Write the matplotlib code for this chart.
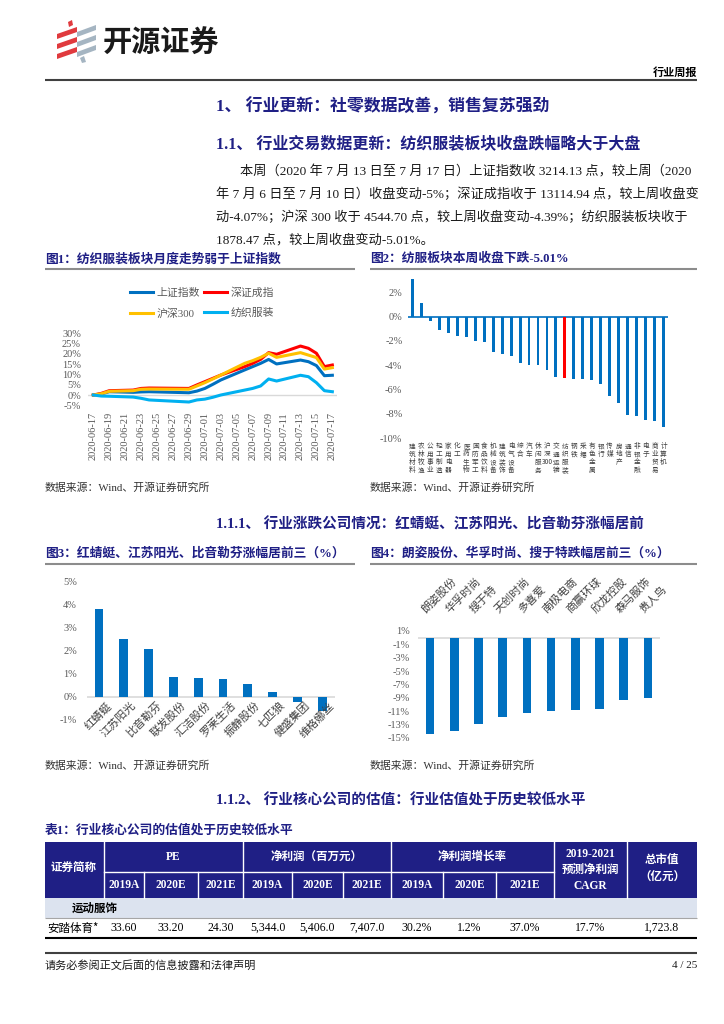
import matplotlib
matplotlib.use("Agg")
import matplotlib.pyplot as plt
from matplotlib.patches import Rectangle, Polygon
from matplotlib.font_manager import FontProperties
import pandas as pd
import numpy as np

CJK = "Noto Sans CJK SC"
SERIF = ["Liberation Serif", "Noto Sans CJK SC"]
NAVY = "#1F1F85"
BLUE = "#0070C0"
GREY = "#595959"
plt.rcParams["font.family"] = SERIF

# ---- chart 1: cumulative change since 2020-06-17 (%)
dates = ["2020-06-17", "2020-06-18", "2020-06-19", "2020-06-22", "2020-06-23", "2020-06-24",
         "2020-06-29", "2020-06-30", "2020-07-01", "2020-07-02", "2020-07-03", "2020-07-06",
         "2020-07-07", "2020-07-08", "2020-07-09", "2020-07-10", "2020-07-13", "2020-07-14",
         "2020-07-15", "2020-07-16", "2020-07-17"]
sh_index = [0, 0.5, 1.6, 1.3, 1.5, 1.6, 1.1, 1.9, 3.2, 5.2, 7.3, 12.2, 13.8, 15.4, 17.3,
            15.1, 17.0, 16.2, 14.3, 9.4, 9.6]
sz_index = [0, 0.8, 2.1, 2.4, 3.2, 3.4, 3.2, 4.9, 6.5, 8.1, 9.7, 13.8, 15.4, 17.3, 20.6,
            19.8, 23.8, 22.7, 20.3, 13.8, 14.6]
hs300 = [0, 0.6, 1.8, 2.1, 2.8, 2.9, 2.8, 4.4, 6.0, 7.8, 9.7, 15.4, 16.7, 18.3, 20.3,
         18.3, 20.6, 19.4, 18.2, 12.6, 13.3]
textile = [0, -0.5, -0.6, -1.0, -1.6, -2.4, -3.4, -2.4, -2.0, -1.1, 0, 2.4, 3.2, 4.4, 7.8,
           6.8, 9.6, 8.9, 6.0, 2.1, 1.6]

# ---- chart 2: weekly change by industry (%)
industries = ["建筑材料", "农林牧渔", "公用事业", "轻工制造", "家用电器", "化工", "医药生物",
              "国防军工", "食品饮料", "机械设备", "建筑装饰", "电气设备", "综合", "汽车",
              "休闲服务", "沪深300", "交通运输", "纺织服装", "钢铁", "采掘", "有色金属",
              "银行", "传媒", "房地产", "通信", "非银金融", "电子", "商业贸易", "计算机"]
ind_change = [3.1, 1.1, -0.4, -1.1, -1.35, -1.6, -1.7, -2.0, -2.1, -2.9, -3.05, -3.2,
              -3.8, -3.95, -4.0, -4.39, -4.95, -5.01, -5.1, -5.15, -5.25, -5.5, -6.5,
              -7.1, -8.1, -8.15, -8.5, -8.55, -9.1]

# ---- chart 3 / 4: top gainers and losers (%)
gainers = ["红蜻蜓", "江苏阳光", "比音勒芬", "联发股份", "汇洁股份", "罗莱生活", "振静股份",
           "七匹狼", "健盛集团", "维格娜丝"]
gain_pct = [3.82, 2.50, 2.08, 0.85, 0.80, 0.76, 0.57, 0.19, -0.24, -0.62]
losers = ["朗姿股份", "华孚时尚", "搜于特", "天创时尚", "多喜爱", "南极电商", "商赢环球",
          "欣龙控股", "森马服饰", "贵人鸟"]
loss_pct = [-14.4, -14.0, -12.9, -11.9, -11.3, -11.0, -10.9, -10.7, -9.4, -9.0]

# ---- table
years = ["2019A", "2020E", "2021E"]
pe = [33.60, 33.20, 24.30]
profit = [5344.0, 5406.0, 7407.0]
growth = [30.2, 1.2, 37.0]
cagr = 17.7
mcap = 1723.8

W, H = 724, 1024
fig = plt.figure(figsize=(7.24, 10.24), dpi=100)
page = fig.add_axes([0, 0, 1, 1])
page.set_xlim(0, W)
page.set_ylim(H, 0)
page.axis("off")


def ax_at(x0, y0, x1, y1):
    return fig.add_axes([x0 / W, 1 - y1 / H, (x1 - x0) / W, (y1 - y0) / H], facecolor="none")


def txt(x, y, s, size=9, color="black", weight="normal", ha="left", family=SERIF, **kw):
    page.text(x, y, s, fontsize=size, color=color, weight=weight, ha=ha, va="center",
              family=family, **kw)


def hline(y, x0, x1, color="#404040", lw=1.2):
    page.plot([x0, x1], [y, y], color=color, lw=lw, solid_capstyle="butt")


# ---- page header
for k in range(3):
    page.add_patch(Polygon([(57, 34 + 10 * k), (77, 27 + 10 * k), (77, 32 + 10 * k), (57, 39 + 10 * k)],
                           color="#E03A3E", lw=0))
    page.add_patch(Polygon([(77, 32 + 10 * k), (96, 25 + 10 * k), (96, 30 + 10 * k), (77, 37 + 10 * k)],
                           color="#A5B5C2", lw=0))
page.add_patch(Polygon([(68, 22), (72, 20), (73, 25), (69, 27)], color="#E03A3E", lw=0))
page.add_patch(Polygon([(80, 58), (84, 56), (86, 62), (82, 63)], color="#A5B5C2", lw=0))
txt(103, 43, "开源证券", size=21, weight="bold", family=CJK, color="#1A1A1A")
txt(697, 72, "行业周报", size=8, weight="bold", ha="right", family=CJK)
hline(80, 45, 697, lw=1.5)

# ---- headings and paragraph
txt(216, 107, "1、 行业更新：社零数据改善，销售复苏强劲", size=12.2, color=NAVY, weight="bold")
txt(216, 145, "1.1、 行业交易数据更新：纺织服装板块收盘跌幅略大于大盘", size=11.5, color=NAVY, weight="bold")
para = ["本周（2020 年 7 月 13 日至 7 月 17 日）上证指数收 3214.13 点，较上周（2020",
        "年 7 月 6 日至 7 月 10 日）收盘变动-5%；深证成指收于 13114.94 点，较上周收盘变",
        "动-4.07%；沪深 300 收于 4544.70 点，较上周收盘变动-4.39%；纺织服装板块收于",
        "1878.47 点，较上周收盘变动-5.01%。"]
for k, line in enumerate(para):
    txt(240 if k == 0 else 216, 172 + 22.7 * k, line, size=9.5, color="#1A1A1A")

txt(45, 259, "图1：纺织服装板块月度走势弱于上证指数", size=9.2, color=NAVY, weight="bold")
txt(370, 259, "图2：纺服板块本周收盘下跌-5.01%", size=9.2, color=NAVY, weight="bold")
hline(269, 45, 355, color="#8C8C8C", lw=1.5)
hline(269, 370, 697, color="#8C8C8C", lw=1.5)
txt(45, 488, "数据来源：Wind、开源证券研究所", size=7.8, color="#333333")
txt(370, 488, "数据来源：Wind、开源证券研究所", size=7.8, color="#333333")

txt(216, 524, "1.1.1、 行业涨跌公司情况：红蜻蜓、江苏阳光、比音勒芬涨幅居前", size=10.5, color=NAVY, weight="bold")
txt(45, 553, "图3：红蜻蜓、江苏阳光、比音勒芬涨幅居前三（%）", size=9.2, color=NAVY, weight="bold")
txt(370, 553, "图4：朗姿股份、华孚时尚、搜于特跌幅居前三（%）", size=9.2, color=NAVY, weight="bold")
hline(564, 45, 355, color="#8C8C8C", lw=1.5)
hline(564, 370, 697, color="#8C8C8C", lw=1.5)
txt(45, 766, "数据来源：Wind、开源证券研究所", size=7.8, color="#333333")
txt(370, 766, "数据来源：Wind、开源证券研究所", size=7.8, color="#333333")

txt(216, 801, "1.1.2、 行业核心公司的估值：行业估值处于历史较低水平", size=10.5, color=NAVY, weight="bold")
txt(45, 830, "表1：行业核心公司的估值处于历史较低水平", size=9.2, color=NAVY, weight="bold")

# ---- chart 1
ax1 = ax_at(88, 333.3, 337, 405.3)
d = pd.to_datetime(dates)
series = [(sh_index, BLUE, "上证指数"), (sz_index, "#FF0000", "深证成指"),
          (hs300, "#FFC000", "沪深300"), (textile, "#00B0F0", "纺织服装")]
lines = {}
for vals, c, lab in series:
    lines[lab], = ax1.plot(d, vals, color=c, lw=2.2, label=lab, solid_joinstyle="round")
ax1.axhline(0, color="#D9D9D9", lw=1, zorder=0)
ax1.set_ylim(-5, 30)
ax1.set_xlim(d[0] - pd.Timedelta(hours=16), d[-1] + pd.Timedelta(hours=14))
ticks = pd.date_range("2020-06-17", "2020-07-17", freq="2D")
ax1.set_xticks(ticks)
ax1.set_xticklabels([t.strftime("%Y-%m-%d") for t in ticks], rotation=90, fontsize=7.5, color=GREY)
ax1.set_yticks(range(-5, 31, 5))
ax1.set_yticklabels([f"{v}%" for v in range(-5, 31, 5)], fontsize=7.5, color=GREY)
ax1.tick_params(length=0, pad=5)
for s in ax1.spines.values():
    s.set_visible(False)
order = ["上证指数", "沪深300", "深证成指", "纺织服装"]
ax1.legend([lines[o] for o in order], order, ncol=2, loc="upper left",
           bbox_to_anchor=(130, 287), bbox_transform=page.transData, frameon=False,
           borderpad=0, borderaxespad=0, handlelength=2.1, handletextpad=0.35,
           columnspacing=0.4, labelspacing=0.95, labelcolor=GREY,
           prop=FontProperties(family=SERIF, size=7.8))

# ---- chart 2
ax2 = ax_at(408, 278.8, 668, 438.3)
x2 = np.arange(len(industries))
colors2 = ["#FF0000" if n == "纺织服装" else BLUE for n in industries]
ax2.bar(x2, ind_change, width=0.32, color=colors2)
ax2.axhline(0, color=BLUE, lw=1.2, zorder=0)
ax2.set_xlim(-0.5, len(industries) - 0.5)
ax2.set_ylim(-10, 3.1)
ax2.set_yticks(range(-10, 3, 2))
ax2.set_yticklabels([f"{v}%" for v in range(-10, 3, 2)], fontsize=7.5, color=GREY)
ax2.set_xticks([])
ax2.tick_params(length=0, pad=4)
for s in ax2.spines.values():
    s.set_visible(False)
for i, n in enumerate(industries):
    lab = "\n".join(list(n)) if not n.endswith("300") else "沪\n深\n300"
    ax2.annotate(lab, xy=(i, -10), xytext=(0, -3), textcoords="offset points", ha="center",
                 va="top", fontsize=4.8, linespacing=1.0, color="#404040", family=CJK,
                 annotation_clip=False)

# ---- chart 3
ax3 = ax_at(86.6, 581.7, 334.6, 719.7)
x3 = np.arange(len(gainers))
ax3.bar(x3, gain_pct, width=0.36, color=BLUE)
ax3.axhline(0, color="#D9D9D9", lw=1.2, zorder=0)
ax3.set_xlim(-0.5, len(gainers) - 0.5)
ax3.set_ylim(-1, 5)
ax3.set_yticks(range(-1, 6))
ax3.set_yticklabels([f"{v}%" for v in range(-1, 6)], fontsize=7.5, color=GREY)
ax3.set_xticks([])
ax3.tick_params(length=0, pad=7)
for s in ax3.spines.values():
    s.set_visible(False)
for i, n in enumerate(gainers):
    ax3.annotate(n, xy=(i, 0), xytext=(5, -2.5), textcoords="offset points", rotation=45,
                 rotation_mode="anchor", ha="right", va="top", fontsize=8, color="#404040",
                 family=CJK, annotation_clip=False)

# ---- chart 4
ax4 = ax_at(418, 631, 660, 737.7)
x4 = np.arange(len(losers))
ax4.bar(x4, loss_pct, width=0.35, color=BLUE)
ax4.axhline(0, color="#D9D9D9", lw=1.2, zorder=0)
ax4.set_xlim(-0.5, len(losers) - 0.5)
ax4.set_ylim(-15, 1)
ax4.set_yticks(range(1, -16, -2))
ax4.set_yticklabels([f"{v}%" for v in range(1, -16, -2)], fontsize=7.5, color=GREY)
ax4.set_xticks([])
ax4.tick_params(length=0, pad=6)
for s in ax4.spines.values():
    s.set_visible(False)
for i, n in enumerate(losers):
    ax4.annotate(n, xy=(i, 1), xytext=(-2, 12), textcoords="offset points", rotation=45,
                 rotation_mode="anchor", ha="left", va="bottom", fontsize=8, color="#404040",
                 family=CJK, annotation_clip=False)

# ---- table
edges = [45, 104, 144, 198, 243, 292, 343, 391, 443, 496, 554, 627, 697]
page.add_patch(Rectangle((45, 842), 652, 56, color=NAVY, lw=0))
for x in [104, 243, 391, 554, 627]:
    page.plot([x, x], [842, 898], color="white", lw=1)
for x in [144, 198, 292, 343, 443, 496]:
    page.plot([x, x], [872, 898], color="white", lw=1)
page.plot([104, 554], [872, 872], color="white", lw=1)
hw = dict(size=8.3, color="white", weight="bold", ha="center")
txt(74, 869, "证券简称", **hw)
txt(173.5, 857, "PE", **hw)
txt(317, 857, "净利润（百万元）", **hw)
txt(472.5, 857, "净利润增长率", **hw)
txt(590, 870, "2019-2021\n预测净利润\nCAGR", linespacing=1.45, **hw)
txt(662, 869, "总市值\n（亿元）", linespacing=1.7, **hw)
for k in range(9):
    txt((edges[k + 1] + edges[k + 2]) / 2, 885, years[k % 3], **hw)

page.add_patch(Rectangle((45, 898), 652, 20, color="#DCE3EF", lw=0))
txt(72, 908, "运动服饰", size=8.3, weight="bold", family=CJK)
hline(918, 45, 697, color="#A6A6A6", lw=0.8)
row = [f"{v:.2f}" for v in pe] + [f"{v:,.1f}" for v in profit] + \
      [f"{v:.1f}%" for v in growth] + [f"{cagr:.1f}%", f"{mcap:,.1f}"]
txt(47, 928, "安踏体育*", size=8.3, family=CJK)
for k, s in enumerate(row):
    txt((edges[k + 1] + edges[k + 2]) / 2, 928, s, size=8.5, ha="center")
hline(938, 45, 697, color="black", lw=1.5)

# ---- footer
hline(953, 45, 697, color="#404040", lw=1.5)
txt(45, 965, "请务必参阅正文后面的信息披露和法律声明", size=8, color="#1A1A1A")
txt(697, 965, "4 / 25", size=8, ha="right", color="#1A1A1A")

fig.savefig("out.png", dpi=100)
